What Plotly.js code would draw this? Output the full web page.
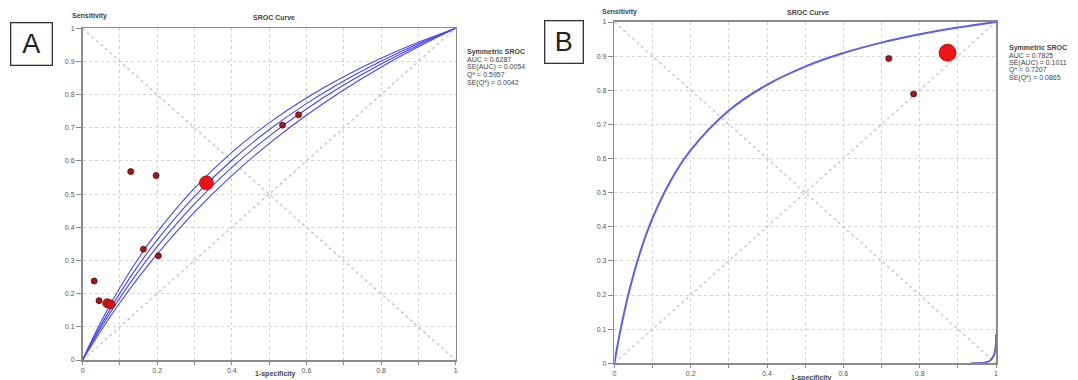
<!DOCTYPE html>
<html><head><meta charset="utf-8">
<script src="https://cdn.plot.ly/plotly-3.0.1.min.js"></script>
<style>html,body{margin:0;padding:0;background:#fff}#chart{width:1078px;height:380px}</style>
</head><body><div id="chart"></div>
<script>
// ---------- Panel A data ----------
const curveXA = [0,0.02,0.05,0.1,0.15,0.2,0.3,0.4,0.5,0.6,0.7,0.8,0.9,1];
const bandA1 = [0,0.0369,0.0899,0.1726,0.2489,0.3194,0.4459,0.5559,0.6525,0.7380,0.8141,0.8825,0.9441,1];
const bandA2 = [0,0.0406,0.0985,0.1874,0.2680,0.3416,0.4707,0.5805,0.6748,0.7568,0.8288,0.8925,0.9492,1];
const bandA3 = [0,0.0443,0.1067,0.2015,0.2861,0.3621,0.4932,0.6022,0.6942,0.7730,0.8412,0.9008,0.9534,1];
const bandA4 = [0,0.0487,0.1167,0.2180,0.3069,0.3855,0.5181,0.6259,0.7150,0.7901,0.8541,0.9094,0.9576,1];
const studyFprA = [0.129,0.197,0.536,0.579,0.163,0.203,0.031,0.044];
const studySensA = [0.568,0.556,0.708,0.739,0.334,0.314,0.238,0.179];
const clusterFprA = [0.066,0.075];
const clusterSensA = [0.171,0.168];
const bigFprA = [0.332];
const bigSensA = [0.534];
const statsA = ['Symmetric SROC','AUC = 0.6287','SE(AUC) = 0.0054','Q* = 0.5957','SE(Q*) = 0.0042'];

// ---------- Panel B data ----------
const curveXB = [0,0.01,0.02,0.04,0.07,0.1,0.15,0.2,0.3,0.4,0.5,0.6,0.7,0.8,0.9,1];
const curveYB = [0,0.0630,0.1196,0.2172,0.3338,0.4253,0.5402,0.6246,0.7405,0.8161,0.8694,0.9090,0.9395,0.9639,0.9836,1];
const tailXB = [0.935,0.965,0.982,0.993,0.999,1];
const tailYB = [0,0.001,0.006,0.02,0.045,0.085];
const studyFprB = [0.719,0.784];
const studySensB = [0.893,0.789];
const bigFprB = [0.873];
const bigSensB = [0.910];
const statsB = ['Symmetric SROC','AUC = 0.7825','SE(AUC) = 0.1011','Q* = 0.7207','SE(Q*) = 0.0865'];

// ---------- shared ----------
const diagX = [0,1];
const diagY = [0,1];
const antiY = [1,0];
const yTickVals = [0,0.1,0.2,0.3,0.4,0.5,0.6,0.7,0.8,0.9,1];
const yTickText = ['0','0.1','0.2','0.3','0.4','0.5','0.6','0.7','0.8','0.9','1'];
const xTickText = ['0','','0.2','','0.4','','0.6','','0.8','','1'];

const FONT = 'Liberation Sans, Arial, sans-serif';
const diagStyle = {color:'#c9c9c9', width:1.5, dash:'dot'};
const bandStyle = {color:'rgb(70,70,235)', width:1.1, shape:'spline'};

const traces = [];
function addDiag(xa, ya){
  traces.push({x:diagX, y:diagY, xaxis:xa, yaxis:ya, mode:'lines', line:diagStyle, hoverinfo:'skip'});
  traces.push({x:diagX, y:antiY, xaxis:xa, yaxis:ya, mode:'lines', line:diagStyle, hoverinfo:'skip'});
}
addDiag('x','y');
addDiag('x2','y2');

[bandA1,bandA2,bandA3,bandA4].forEach(b=>{
  traces.push({x:curveXA, y:b, xaxis:'x', yaxis:'y', mode:'lines', line:bandStyle});
});
traces.push({x:studyFprA, y:studySensA, xaxis:'x', yaxis:'y', mode:'markers',
  marker:{size:6, color:'#a01818', line:{color:'#5a0808', width:0.8}}});
traces.push({x:clusterFprA, y:clusterSensA, xaxis:'x', yaxis:'y', mode:'markers',
  marker:{size:9, color:'#d01515', line:{color:'#8a0a0a', width:0.8}}});
traces.push({x:bigFprA, y:bigSensA, xaxis:'x', yaxis:'y', mode:'markers',
  marker:{size:14, color:'#e8141a', line:{color:'#b00000', width:0.8}}});

traces.push({x:curveXB, y:curveYB, xaxis:'x2', yaxis:'y2', mode:'lines',
  line:{color:'rgb(95,95,225)', width:2, shape:'spline'}});
traces.push({x:tailXB, y:tailYB, xaxis:'x2', yaxis:'y2', mode:'lines', cliponaxis:false,
  line:{color:'rgb(95,95,200)', width:2, shape:'spline'}});
traces.push({x:studyFprB, y:studySensB, xaxis:'x2', yaxis:'y2', mode:'markers',
  marker:{size:6, color:'#a01818', line:{color:'#5a0808', width:0.8}}});
traces.push({x:bigFprB, y:bigSensB, xaxis:'x2', yaxis:'y2', mode:'markers',
  marker:{size:17, color:'#ee1419', line:{color:'#b00000', width:0.8}}});

function xAxis(dom, anchor){
  return {domain:dom, anchor:anchor, range:[0,1], tickvals:yTickVals, ticktext:xTickText,
    showgrid:true, gridcolor:'#d4d4d4', griddash:'dot', gridwidth:1,
    showline:true, linecolor:'#8a8a8a', linewidth:1.6, mirror:true,
    ticks:'outside', ticklen:3, tickcolor:'#8a8a8a', zeroline:false,
    tickfont:{family:FONT, size:7, color:'#555'}, fixedrange:true};
}
function yAxis(dom, anchor){
  return {domain:dom, anchor:anchor, range:[0,1], tickvals:yTickVals, ticktext:yTickText,
    showgrid:true, gridcolor:'#d4d4d4', griddash:'dot', gridwidth:1,
    showline:true, linecolor:'#8a8a8a', linewidth:1.6, mirror:true,
    ticks:'outside', ticklen:5, tickcolor:'#8a8a8a', zeroline:false,
    tickfont:{family:FONT, size:7, color:'#555'}, fixedrange:true};
}

const W = 1078, H = 380;
const px = v => v / W;
const py = v => 1 - v / H;
const anns = [];
function lbl(text, x, y, opts){
  anns.push(Object.assign({text:text, xref:'paper', yref:'paper', x:px(x), y:py(y),
    showarrow:false, xanchor:'center', yanchor:'middle',
    font:{family:FONT, size:7, color:'#444'}}, opts||{}));
}
// Panel A texts
lbl('<b>Sensitivity</b>', 89, 16.5);
lbl('<b>SROC Curve</b>', 274, 17);
lbl('<b>1-specificity</b>', 275, 373.5);
statsA.forEach((t,i)=>lbl(i===0?'<b>'+t+'</b>':t, 465, 51.7+i*7.8, {xanchor:'left'}));
// Panel B texts
lbl('<b>Sensitivity</b>', 619, 12);
lbl('<b>SROC Curve</b>', 808, 13);
lbl('<b>1-specificity</b>', 811, 377.5);
statsB.forEach((t,i)=>lbl(i===0?'<b>'+t+'</b>':t, 1006.5, 47.5+i*7.5, {xanchor:'left'}));
// Panel letters
lbl('A', 31.3, 44.2, {font:{family:FONT, size:27, color:'#222'}, width:40, height:41,
  bordercolor:'#333', borderwidth:1.3, borderpad:0, bgcolor:'#fff'});
lbl('B', 563.8, 42.5, {font:{family:FONT, size:27, color:'#222'}, width:37, height:41,
  bordercolor:'#333', borderwidth:1.3, borderpad:0, bgcolor:'#fff'});

const layout = {
  width:W, height:H, margin:{l:0,r:0,t:0,b:0}, showlegend:false,
  paper_bgcolor:'#fff', plot_bgcolor:'#fff',
  xaxis: xAxis([82.6/W, 455.6/W], 'y'),
  yaxis: yAxis([1-360/H, 1-28.3/H], 'x'),
  xaxis2: xAxis([614.4/W, 996/W], 'y2'),
  yaxis2: yAxis([1-363.3/H, 1-22/H], 'x2'),
  annotations: anns
};
Plotly.newPlot('chart', traces, layout, {staticPlot:true, displayModeBar:false});
</script></body></html>
